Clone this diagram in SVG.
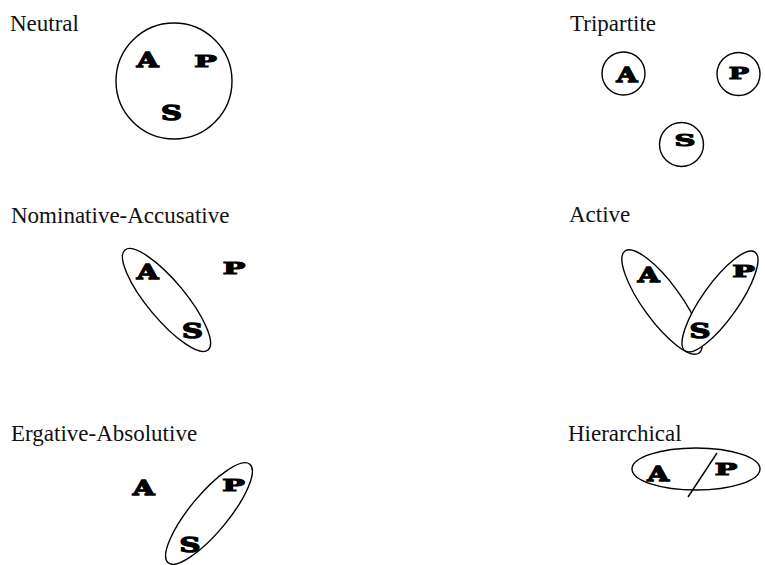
<svg xmlns="http://www.w3.org/2000/svg" width="765" height="565" viewBox="0 0 765 565">
<style>
.lbl{font-family:"Liberation Serif","Times New Roman",serif;font-size:23px;fill:#111}
.L{font-family:"DejaVu Serif","Liberation Serif",serif;font-weight:bold;font-size:20px;fill:#000;stroke:#000;stroke-width:1.3;stroke-linejoin:miter;text-anchor:middle}
.sh{fill:none;stroke:#000;stroke-width:1.4}
.shw{fill:#fff;stroke:#000;stroke-width:1.4}
</style>
<rect width="765" height="565" fill="#fff"/>
<g id="neutral">
<text class="lbl" x="10" y="31">Neutral</text>
<circle class="sh" cx="174" cy="81" r="58"/>
<text class="L" transform="translate(147.5,67) scale(1.4,1)">A</text>
<text class="L" transform="translate(205.5,67) scale(1.5,0.85)">P</text>
<text class="L" transform="translate(171.5,120) scale(1.45,1)">S</text>
</g>
<g id="tripartite">
<text class="lbl" x="570" y="31">Tripartite</text>
<circle class="sh" cx="623.5" cy="73.5" r="21.5"/>
<circle class="sh" cx="738.5" cy="74" r="21.5"/>
<circle class="sh" cx="681.5" cy="144.5" r="22"/>
<text class="L" transform="translate(627,82) scale(1.35,1)">A</text>
<text class="L" transform="translate(739,79) scale(1.35,0.85)">P</text>
<text class="L" transform="translate(685,146) scale(1.45,0.85)">S</text>
</g>
<g id="nominative-accusative">
<text class="lbl" x="11" y="223">Nominative-Accusative</text>
<ellipse class="sh" cx="166.5" cy="300" rx="65" ry="19" transform="rotate(50.3 166.5 300)"/>
<text class="L" transform="translate(147.5,279) scale(1.4,1)">A</text>
<text class="L" transform="translate(234,274) scale(1.5,0.85)">P</text>
<text class="L" transform="translate(192.5,338) scale(1.45,1)">S</text>
</g>
<g id="active">
<text class="lbl" x="569" y="222">Active</text>
<ellipse class="sh" cx="662" cy="302" rx="63" ry="19" transform="rotate(54 662 302)"/>
<ellipse class="shw" cx="720" cy="301.5" rx="60.5" ry="18" transform="rotate(-54.7 720 301.5)"/>
<text class="L" transform="translate(648.5,282) scale(1.4,1)">A</text>
<text class="L" transform="translate(743.5,277) scale(1.5,0.85)">P</text>
<text class="L" transform="translate(700,338) scale(1.45,1)">S</text>
</g>
<g id="ergative-absolutive">
<text class="lbl" x="11" y="441">Ergative-Absolutive</text>
<ellipse class="sh" cx="209" cy="513.5" rx="64" ry="19" transform="rotate(-50.4 209 513.5)"/>
<text class="L" transform="translate(143.5,495) scale(1.4,1)">A</text>
<text class="L" transform="translate(233.5,491) scale(1.5,0.85)">P</text>
<text class="L" transform="translate(190,552) scale(1.45,1)">S</text>
</g>
<g id="hierarchical">
<text class="lbl" x="568" y="441">Hierarchical</text>
<ellipse class="sh" cx="696" cy="469" rx="64" ry="21"/>
<line class="sh" x1="717" y1="453" x2="688" y2="497"/>
<text class="L" transform="translate(658,481) scale(1.4,1)">A</text>
<text class="L" transform="translate(726,475) scale(1.5,0.85)">P</text>
</g>
<g id="connectors"/>
</svg>
